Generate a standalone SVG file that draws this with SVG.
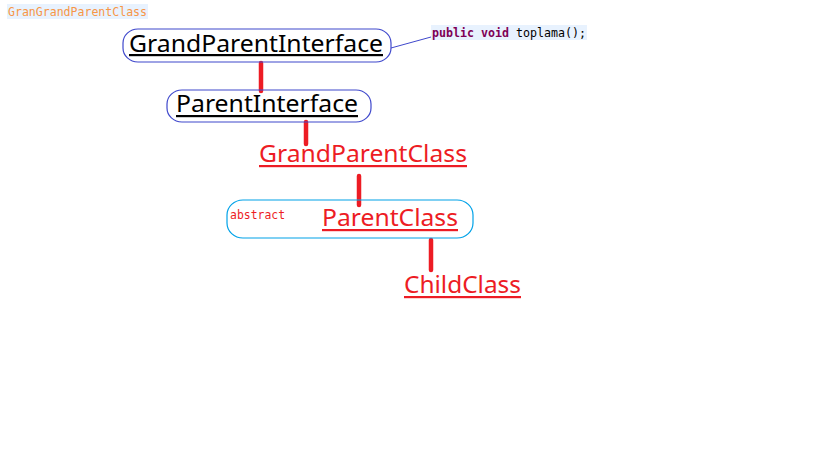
<svg xmlns="http://www.w3.org/2000/svg" width="819" height="460" viewBox="0 0 819 460">
<style>
.big{font-family:"Noto Sans","Open Sans",sans-serif;font-size:24px}
.mono{font-family:"DejaVu Sans Mono","Liberation Mono",monospace;font-size:12px}
.blk{fill:#000}
.red{fill:#ed1c24}
.ifbox{fill:none;stroke:#3f48cc;stroke-width:1.2}
.clbox{fill:none;stroke:#00a2e8;stroke-width:1.2}
.conn{stroke:#ed1c24;stroke-width:4.5;stroke-linecap:round}
</style>
<rect width="819" height="460" fill="#fff"/>
<g id="note-grangrand">
<rect x="7" y="4" width="141" height="15" fill="#e8f2fe"/>
<text x="8" y="16" class="mono" fill="#f79646" textLength="139" lengthAdjust="spacingAndGlyphs">GranGrandParentClass</text>
</g>
<g id="note-toplama">
<rect x="431" y="25" width="156" height="15" fill="#e8f2fe"/>
<text x="432" y="37" class="mono" textLength="154" lengthAdjust="spacingAndGlyphs"><tspan fill="#7f0055" font-weight="bold">public void</tspan><tspan fill="#000"> toplama();</tspan></text>
</g>
<g id="connectors">
<line x1="391" y1="48" x2="431" y2="37" stroke="#3f48cc" stroke-width="1"/>
<line class="conn" x1="261" y1="63" x2="261" y2="91"/>
<line class="conn" x1="306" y1="122" x2="306" y2="144"/>
<line class="conn" x1="359" y1="176" x2="359" y2="205"/>
<line class="conn" x1="431" y1="240" x2="431" y2="270"/>
</g>
<g id="GrandParentInterface">
<rect class="ifbox" x="123" y="29" width="268" height="33" rx="15" ry="14"/>
<text x="129" y="52" class="big blk" textLength="254" lengthAdjust="spacingAndGlyphs">GrandParentInterface</text>
<rect x="129" y="54" width="254" height="2.2" fill="#000"/>
</g>
<g id="ParentInterface">
<rect class="ifbox" x="167" y="90" width="204" height="32" rx="15" ry="14"/>
<text x="176" y="112" class="big blk" textLength="182" lengthAdjust="spacingAndGlyphs">ParentInterface</text>
<rect x="176" y="115" width="182" height="2.2" fill="#000"/>
</g>
<g id="GrandParentClass">
<text x="259" y="162" class="big red" textLength="208" lengthAdjust="spacingAndGlyphs">GrandParentClass</text>
<rect x="259" y="165" width="208" height="2.2" class="red"/>
</g>
<g id="ParentClass">
<rect class="clbox" x="227" y="200" width="246" height="38" rx="16" ry="15"/>
<text x="230" y="219" class="mono red" font-size="11px" textLength="55" lengthAdjust="spacingAndGlyphs">abstract</text>
<text x="322" y="226" class="big red" textLength="136" lengthAdjust="spacingAndGlyphs">ParentClass</text>
<rect x="322" y="229" width="136" height="2.2" class="red"/>
</g>
<g id="ChildClass">
<text x="404" y="293" class="big red" textLength="117" lengthAdjust="spacingAndGlyphs">ChildClass</text>
<rect x="404" y="296" width="117" height="2.2" class="red"/>
</g>
</svg>
